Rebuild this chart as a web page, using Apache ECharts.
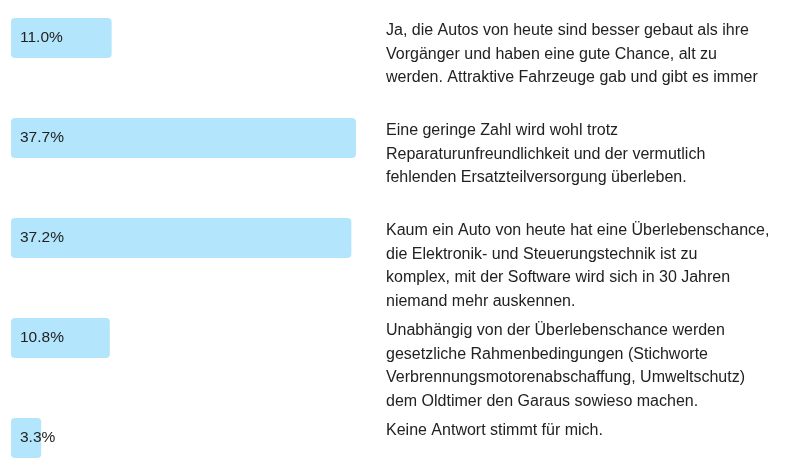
<!DOCTYPE html>
<html>
<head>
<meta charset="utf-8">
<script src="https://cdn.jsdelivr.net/npm/echarts@6/dist/echarts.min.js"></script>
<style>
  html, body { margin: 0; padding: 0; background: #fff; }
  #chart { width: 800px; height: 471px; }
</style>
</head>
<body>
<div id="chart"></div>
<script>
// Antworten und Anteile (in %)
var answers = [
    'Ja, die Autos von heute sind besser gebaut als ihre\nVorgänger und haben eine gute Chance, alt zu\nwerden. Attraktive Fahrzeuge gab und gibt es immer',
    'Eine geringe Zahl wird wohl trotz\nReparaturunfreundlichkeit und der vermutlich\nfehlenden Ersatzteilversorgung überleben.',
    'Kaum ein Auto von heute hat eine Überlebenschance,\ndie Elektronik- und Steuerungstechnik ist zu\nkomplex, mit der Software wird sich in 30 Jahren\nniemand mehr auskennen.',
    'Unabhängig von der Überlebenschance werden\ngesetzliche Rahmenbedingungen (Stichworte\nVerbrennungsmotorenabschaffung, Umweltschutz)\ndem Oldtimer den Garaus sowieso machen.',
    'Keine Antwort stimmt für mich.'
];
var categories = ['A1', 'A2', 'A3', 'A4', 'A5'];
var shares = [11.0, 37.7, 37.2, 10.8, 3.3];

var font = "'Helvetica Neue', Helvetica, Arial, 'Liberation Sans', sans-serif";

var myChart = echarts.init(document.getElementById('chart'));
var option = {
    animation: false,
    grid: {
        left: 11,
        right: 423,
        top: 38,
        bottom: 33
    },
    xAxis: {
        type: 'value',
        min: 0,
        max: 40,
        show: false
    },
    yAxis: {
        type: 'category',
        data: categories,
        inverse: true,
        boundaryGap: false,
        show: false
    },
    series: [
        {
            name: 'Anteil',
            type: 'bar',
            barWidth: 40,
            data: shares,
            itemStyle: {
                color: '#b3e5fc',
                borderRadius: 4
            },
            label: {
                show: true,
                position: 'insideLeft',
                distance: 9,
                color: '#222',
                fontSize: 15.5,
                fontFamily: font,
                formatter: function (p) {
                    return p.value.toFixed(1) + '%';
                }
            }
        },
        {
            name: 'Antwort',
            type: 'bar',
            barWidth: 40,
            barGap: '-100%',
            silent: true,
            data: shares,
            itemStyle: {
                color: 'rgba(0,0,0,0)'
            },
            label: {
                show: true,
                position: [375, 1],
                align: 'left',
                verticalAlign: 'top',
                color: '#222',
                fontSize: 16,
                lineHeight: 23.5,
                fontFamily: font,
                formatter: function (p) {
                    return answers[p.dataIndex];
                }
            }
        }
    ]
};
myChart.setOption(option);
</script>
</body>
</html>
